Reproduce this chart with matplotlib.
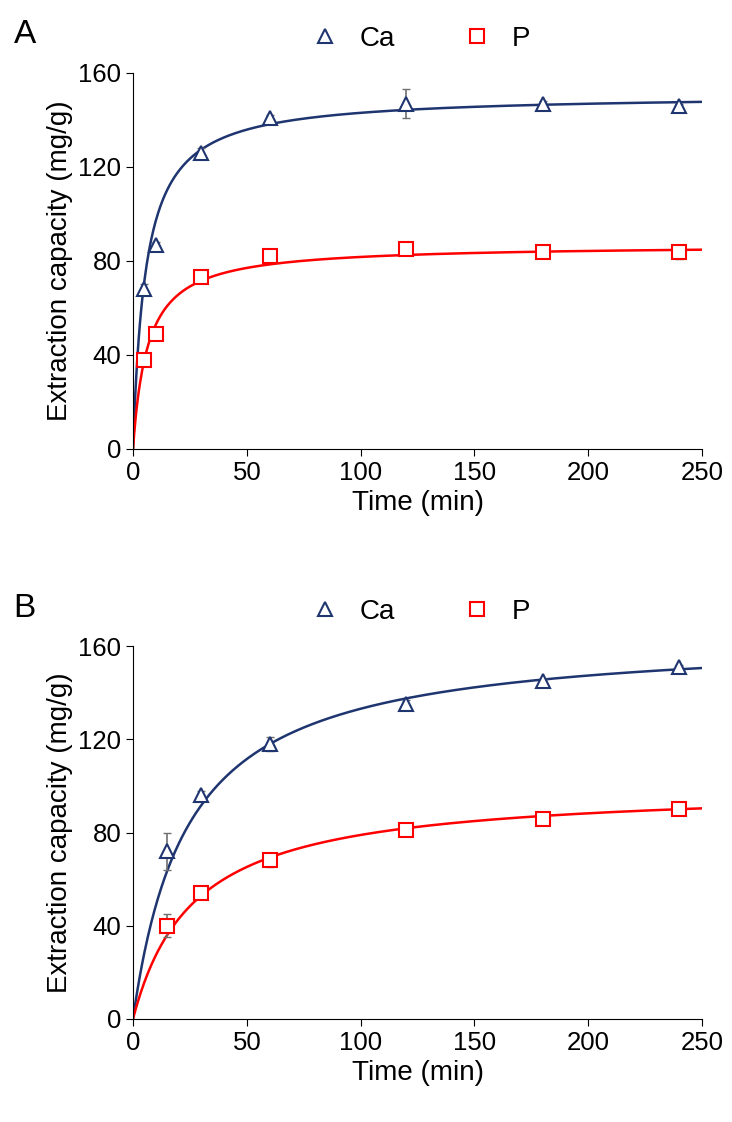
import numpy as np
import matplotlib
matplotlib.use("Agg")
import matplotlib.pyplot as plt
plt.rcParams['font.family'] = ['Liberation Sans', 'DejaVu Sans']

tA = [5, 10, 30, 60, 120, 180, 240]
caA = [68, 87, 126, 141, 147, 147, 146]
caA_err = [2, 1, 2, 1, 6, 1, 1]
pA = [38, 49, 73, 82, 85, 84, 84]
pA_err = [1, 1, 1, 1, 2, 1, 3]
tB = [15, 30, 60, 120, 180, 240]
caB = [72, 96, 118, 135, 145, 151]
caB_err = [8, 2, 3, 2, 1, 1]
pB = [40, 54, 68, 81, 86, 90]
pB_err = [5, 1, 3, 2, 1, 1]
# pseudo-second-order fit parameters (qe, k*qe)
fitA = {'Ca': (151, 0.18), 'P': (87, 0.155)}
fitB = {'Ca': (165, 0.0417), 'P': (100, 0.0375)}

navy = '#1F3570'
red = '#FF0000'
fig = plt.figure(figsize=(7.32, 11.22), dpi=100)
W, H = 732, 1122
axes = [fig.add_axes([133/W, 1-449/H, 569/W, 376/H]),
        fig.add_axes([133/W, 1-1019/H, 569/W, 373/H])]
panels = [(tA, caA, caA_err, pA, pA_err, fitA, 'A'), (tB, caB, caB_err, pB, pB_err, fitB, 'B')]
tt = np.linspace(0, 250, 500)
for ax, (t, ca, cae, p, pe, fit, lab) in zip(axes, panels):
    for key, y, e, c, m in [('Ca', ca, cae, navy, '^'), ('P', p, pe, red, 's')]:
        qe, a = fit[key]
        ax.plot(tt, qe * a * tt / (1 + a * tt), color=c, lw=1.8)
        ax.errorbar(t, y, yerr=e, fmt='none', ecolor='#707070', elinewidth=1.2, capsize=3)
        ax.plot(t, y, m, mfc='white', mec=c, ms=10, mew=1.5, ls='none', label=key)
    ax.set_xlim(0, 250)
    ax.set_ylim(0, 160)
    ax.set_xticks([0, 50, 100, 150, 200, 250])
    ax.set_yticks([0, 40, 80, 120, 160])
    ax.tick_params(labelsize=18.5, direction='out', length=5)
    for s in ['top', 'right']:
        ax.spines[s].set_visible(False)
    ax.set_xlabel('Time (min)', fontsize=20)
    ax.set_ylabel('Extraction capacity (mg/g)', fontsize=20)
    ax.legend(loc='lower center', bbox_to_anchor=(0.5, 0.99), ncol=2, frameon=False,
              fontsize=20, columnspacing=2.2, handletextpad=0.5, handlelength=1.5)
    ax.text(-0.21, 1.06, lab, transform=ax.transAxes, fontsize=24, va='bottom')
fig.savefig('out.png', dpi=100)
